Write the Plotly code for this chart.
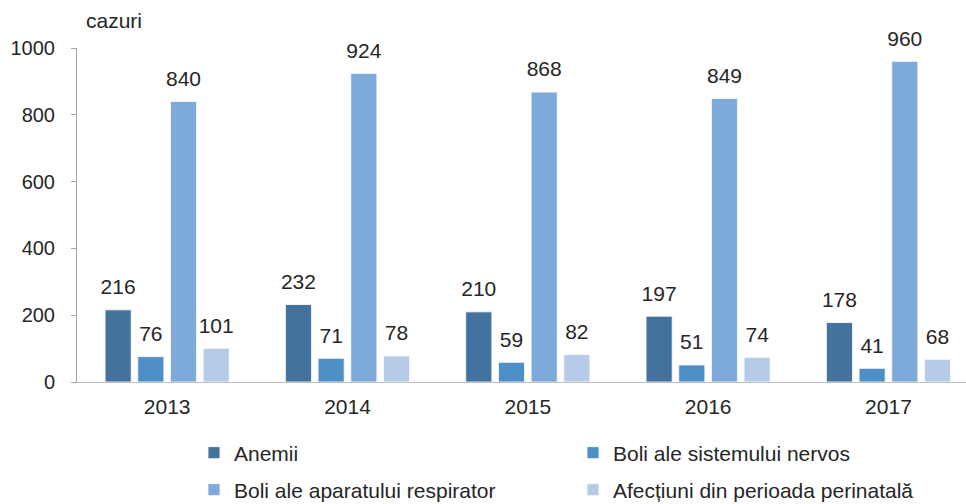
import plotly.graph_objects as go

years = ["2013", "2014", "2015", "2016", "2017"]
anemii = [216, 232, 210, 197, 178]
boli_nervos = [76, 71, 59, 51, 41]
boli_respirator = [840, 924, 868, 849, 960]
afectiuni_perinatala = [101, 78, 82, 74, 68]

series = [
    ("Anemii", anemii, "#44729f", "legend"),
    ("Boli ale sistemului nervos", boli_nervos, "#4f8fc7", "legend"),
    ("Boli ale aparatului respirator", boli_respirator, "#7eaad9", "legend2"),
    ("Afecțiuni din perioada perinatală", afectiuni_perinatala, "#b5cbe7", "legend2"),
]

FONT = "Liberation Sans, Arial, sans-serif"
TXT = "#262626"
GAP = 0.275

fig = go.Figure()
for name, vals, color, leg in series:
    fig.add_trace(
        go.Bar(
            x=years,
            y=vals,
            name=name,
            legend=leg,
            offsetgroup=name,
            marker=dict(color=color, line=dict(color="rgba(255,255,255,0.8)", width=1)),
        )
    )

# value labels, lifted a little above the bars
for name, vals, color, leg in series:
    fig.add_trace(
        go.Scatter(
            x=years,
            y=vals,
            mode="markers+text",
            offsetgroup=name,
            text=[str(v) for v in vals],
            textposition="top center",
            textfont=dict(size=21, color=TXT, family=FONT),
            marker=dict(size=15, opacity=0),
            showlegend=False,
            hoverinfo="skip",
            cliponaxis=False,
        )
    )

legend_style = dict(
    orientation="h",
    xref="container",
    yref="container",
    xanchor="left",
    yanchor="middle",
    x=194 / 966,
    entrywidth=334,
    entrywidthmode="pixels",
    font=dict(size=21, color=TXT, family=FONT),
    itemwidth=30,
    bgcolor="rgba(0,0,0,0)",
    traceorder="normal",
)

fig.update_layout(
    width=966,
    height=504,
    margin=dict(l=77, r=0, t=48, b=122, autoexpand=False),
    paper_bgcolor="white",
    plot_bgcolor="white",
    font=dict(family=FONT, size=21, color=TXT),
    barmode="group",
    bargap=GAP,
    bargroupgap=0.2,
    scattermode="group",
    scattergap=GAP,
    showlegend=True,
    legend=dict(legend_style, y=1 - 453 / 504),
    legend2=dict(legend_style, y=1 - 490 / 504),
    xaxis=dict(
        range=[-0.5, 4.43],
        showline=True,
        linecolor="#bfbfbf",
        linewidth=1,
        ticks="",
        showgrid=False,
        ticklabelstandoff=6,
        tickfont=dict(size=21, color=TXT),
    ),
    yaxis=dict(
        range=[0, 1000],
        dtick=200,
        showline=True,
        linecolor="#a6a6a6",
        linewidth=1,
        ticks="outside",
        ticklen=5,
        tickcolor="#a6a6a6",
        showgrid=False,
        zeroline=False,
        ticklabelstandoff=12,
        tickfont=dict(size=20, color=TXT),
    ),
    annotations=[
        dict(
            text="cazuri",
            xref="paper",
            yref="paper",
            x=(84 - 77) / 889,
            y=(382 - 20) / 334,
            xanchor="left",
            yanchor="middle",
            showarrow=False,
            font=dict(size=21, color=TXT),
        )
    ],
)

fig.write_html(
    "out.html",
    config={"displayModeBar": False},
    post_script="document.body.style.margin='0';",
)
